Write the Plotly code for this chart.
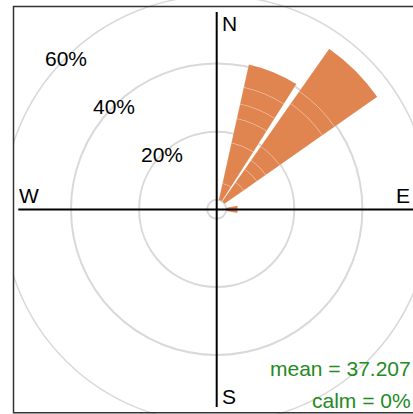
import math
import plotly.graph_objects as go

# ---- data ----
directions = [22.5, 45.0, 90.0]          # wind direction bins (deg from N)
nne_segments = [5.0, 12.2, 7.3, 4.4, 5.0, 6.9]        # % stacked by speed bin
ne_segments = [6.9, 4.7, 3.2, 5.0, 15.3, 4.4, 15.3]
e_segments = [3.4]
grid_values = [20, 40, 60]
grid_labels = ["20%", "40%", "60%"]
mean_speed = 37.207
calm_pct = 0
compass_labels = ["N", "E", "S", "W"]

# ---- styling / geometry ----
W, H = 413, 414
cx, cy = 216.7, 209.3        # centre of the rose (px)
off_px = 9.5                 # radius of the 0% circle (px)
px_per = 3.405               # px per percent
R = 196.3                    # radius of polar subplot (px)
rmin = -off_px / px_per
rmax = rmin + R / px_per
BAR = "#E0854F"
GRID = "#D9D9D9"
FONT = "Liberation Sans, Arial, sans-serif"
FS = 21

fig = go.Figure()
segs = [nne_segments, ne_segments, e_segments]
nlev = max(len(s) for s in segs)
for k in range(nlev):
    th = [d for d, s in zip(directions, segs) if len(s) > k]
    rr = [s[k] for s in segs if len(s) > k]
    fig.add_trace(go.Barpolar(
        r=rr, theta=th, width=[20] * len(th),
        marker=dict(color=BAR, line=dict(color="rgba(255,255,255,0.3)", width=0.6)),
        showlegend=False, hoverinfo="skip"))

def px_x(x):
    return x / W

def px_y(y):
    return 1 - y / H

shapes = []
# outer 60% grid circle (outside the polar subplot)
r60 = off_px + grid_values[2] * px_per
shapes.append(dict(type="circle", xref="paper", yref="paper",
                   x0=px_x(cx - r60), x1=px_x(cx + r60),
                   y0=px_y(cy + r60), y1=px_y(cy - r60),
                   line=dict(color=GRID, width=1.5), layer="below"))
# mask outside the panel on the left
shapes.append(dict(type="rect", xref="paper", yref="paper",
                   x0=-0.01, x1=px_x(13.5), y0=-0.01, y1=1.01,
                   fillcolor="white", line=dict(width=0), layer="below"))
# panel border
shapes.append(dict(type="rect", xref="paper", yref="paper",
                   x0=px_x(13.5), x1=1.03, y0=px_y(412.8), y1=px_y(6.5),
                   line=dict(color="#333333", width=1.5), layer="above"))
# compass cross
shapes.append(dict(type="line", xref="paper", yref="paper",
                   x0=px_x(18.3), x1=1.01, y0=px_y(209.5), y1=px_y(209.5),
                   line=dict(color="black", width=2), layer="above"))
shapes.append(dict(type="line", xref="paper", yref="paper",
                   x0=px_x(216.7), x1=px_x(216.7), y0=px_y(407), y1=px_y(12),
                   line=dict(color="black", width=2), layer="above"))

annotations = []
compass_pos = {"N": (229.7, 23), "E": (402.8, 195.5), "S": (228.5, 396), "W": (28.8, 195)}
for lab in compass_labels:
    x, y = compass_pos[lab]
    annotations.append(dict(text=lab, x=px_x(x), y=px_y(y), xref="paper", yref="paper",
                            showarrow=False, xanchor="center", yanchor="middle",
                            font=dict(size=FS, color="black", family=FONT)))
for v, lab in zip(grid_values, grid_labels):
    rad = off_px + v * px_per
    x = cx - rad * math.sin(math.radians(45))
    y = cy - rad * math.cos(math.radians(45))
    annotations.append(dict(text=lab, x=px_x(x), y=px_y(y), xref="paper", yref="paper",
                            showarrow=False, xanchor="center", yanchor="middle",
                            font=dict(size=FS, color="black", family=FONT)))
annotations.append(dict(text=f"mean = {mean_speed}", x=px_x(413), y=px_y(368),
                        xref="paper", yref="paper", showarrow=False,
                        xanchor="right", yanchor="middle",
                        font=dict(size=FS, color="#228B22", family=FONT)))
annotations.append(dict(text=f"calm = {calm_pct}%", x=px_x(413), y=px_y(400),
                        xref="paper", yref="paper", showarrow=False,
                        xanchor="right", yanchor="middle",
                        font=dict(size=FS, color="#228B22", family=FONT)))

fig.update_layout(
    width=W, height=H,
    margin=dict(l=0, r=0, t=0, b=0),
    paper_bgcolor="white", plot_bgcolor="white",
    showlegend=False,
    polar=dict(
        domain=dict(x=[(cx - R) / W, min(1.0, (cx + R) / W)],
                    y=[1 - (cy + R) / H, 1 - (cy - R) / H]),
        bgcolor="rgba(0,0,0,0)",
        barmode="stack",
        radialaxis=dict(range=[rmin, rmax], tickvals=[0, 20, 40], showticklabels=False,
                        ticks="", showline=False, gridcolor=GRID, gridwidth=1.5),
        angularaxis=dict(rotation=90, direction="clockwise", showgrid=False,
                         showticklabels=False, ticks="", showline=False),
    ),
    shapes=shapes,
    annotations=annotations,
)

fig.write_html(
    "out.html",
    config={"displayModeBar": False},
    post_script="document.body.style.margin='0px';document.body.style.overflow='hidden';",
)
